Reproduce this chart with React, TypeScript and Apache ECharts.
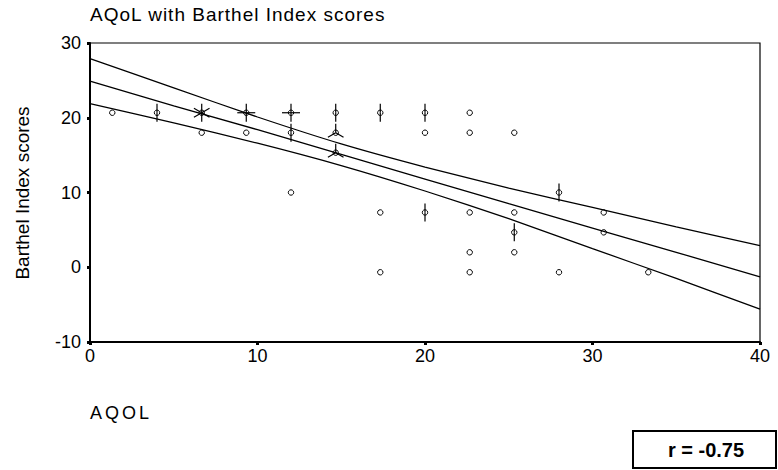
import React, { useEffect, useRef } from "react";
import * as echarts from "echarts";

// ---- data ----
const TITLE = "AQoL with Barthel Index scores";
const X_NAME = "AQOL";
const Y_NAME = "Barthel Index scores";
const R_TEXT = "r = -0.75";

const xTicks = [0, 10, 20, 30, 40];
const yTicks = [-10, 0, 10, 20, 30];

// observed points: x, y and number of coincident cases (sunflower petals)
const pointX = [1.33, 4, 6.67, 9.33, 12, 14.67, 17.33, 20, 22.67,
  6.67, 9.33, 12, 14.67, 20, 22.67, 25.33,
  14.67,
  12, 28,
  17.33, 20, 22.67, 25.33, 30.67,
  25.33, 30.67,
  22.67, 25.33,
  17.33, 22.67, 28, 33.33];
const pointY = [20.67, 20.67, 20.67, 20.67, 20.67, 20.67, 20.67, 20.67, 20.67,
  18, 18, 18, 18, 18, 18, 18,
  15.33,
  10, 10,
  7.33, 7.33, 7.33, 7.33, 7.33,
  4.67, 4.67,
  2, 2,
  -0.67, -0.67, -0.67, -0.67];
const pointCount = [1, 2, 6, 4, 4, 2, 2, 2, 1,
  1, 1, 2, 3, 1, 1, 1,
  3,
  1, 2,
  1, 2, 1, 1, 1,
  2, 1,
  1, 1,
  1, 1, 1, 1];

// fit line and confidence band, read at x = 0, 5, ... 40
const bandX = [0, 5, 10, 15, 20, 25, 30, 35, 40];
const fitY = [24.9, 21.6, 18.4, 15.1, 11.8, 8.5, 5.25, 2.0, -1.3];
const upperY = [27.9, 24.0, 20.1, 16.5, 13.4, 10.6, 8.0, 5.4, 2.9];
const lowerY = [21.9, 19.3, 16.6, 13.6, 10.2, 6.5, 2.5, -1.5, -5.6];

const FONT = "'Liberation Sans', Arial, sans-serif";

export default function App() {
  const ref = useRef<HTMLDivElement>(null);

  useEffect(() => {
    if (!ref.current) return;
    const chart = echarts.init(ref.current, undefined, { renderer: "svg" });

    const pts = pointX.map((x, i) => [x, pointY[i], pointCount[i]]);
    const toPairs = (ys: number[]) => bandX.map((x, i) => [x, ys[i]]);
    const lineStyle = { color: "#000", width: 1.3 };

    const option: any = {
      animation: false,
      backgroundColor: "#fff",
      textStyle: { fontFamily: FONT },
      grid: {
        left: 90,
        right: 18,
        top: 43,
        bottom: 128,
        show: true,
        borderColor: "#000",
        borderWidth: 1.2,
        containLabel: false,
      },
      xAxis: {
        type: "value",
        min: xTicks[0],
        max: xTicks[xTicks.length - 1],
        interval: 10,
        axisLine: { show: true, onZero: false, lineStyle: { color: "#000", width: 2 } },
        axisTick: { show: true, length: 3, lineStyle: { color: "#000", width: 3 } },
        axisLabel: { color: "#000", fontSize: 18, margin: 5, fontFamily: FONT },
        splitLine: { show: false },
      },
      yAxis: {
        type: "value",
        min: yTicks[0],
        max: yTicks[yTicks.length - 1],
        interval: 10,
        axisLine: { show: true, onZero: false, lineStyle: { color: "#000", width: 2 } },
        axisTick: { show: true, length: 3, lineStyle: { color: "#000", width: 3 } },
        axisLabel: { color: "#000", fontSize: 18, margin: 9, fontFamily: FONT },
        splitLine: { show: false },
      },
      graphic: [
        {
          type: "text",
          left: 90,
          top: 5,
          style: { text: TITLE, fontSize: 19, fill: "#000", fontFamily: FONT },
        },
        {
          type: "text",
          left: 90,
          top: 404,
          style: { text: X_NAME, fontSize: 18, fill: "#000", fontFamily: FONT },
        },
        {
          type: "text",
          x: 22,
          y: 193,
          rotation: Math.PI / 2,
          style: {
            text: Y_NAME,
            fontSize: 19,
            fill: "#000",
            fontFamily: FONT,
            align: "center",
            verticalAlign: "middle",
          },
        },
        {
          type: "rect",
          shape: { x: 633, y: 431, width: 143, height: 37 },
          style: { fill: "#fff", stroke: "#000", lineWidth: 2 },
        },
        {
          type: "text",
          x: 706,
          y: 450,
          style: {
            text: R_TEXT,
            fontSize: 20,
            fontWeight: "bold",
            fill: "#000",
            fontFamily: FONT,
            align: "center",
            verticalAlign: "middle",
          },
        },
      ],
      series: [
        { type: "line", data: toPairs(upperY), symbol: "none", lineStyle, silent: true, smooth: 0.2 },
        { type: "line", data: toPairs(fitY), symbol: "none", lineStyle, silent: true },
        { type: "line", data: toPairs(lowerY), symbol: "none", lineStyle, silent: true, smooth: 0.2 },
        {
          type: "custom",
          data: pts,
          silent: true,
          renderItem: (params: any, api: any) => {
            const c = api.coord([api.value(0), api.value(1)]);
            const n = api.value(2);
            const children: any[] = [
              {
                type: "circle",
                shape: { cx: c[0], cy: c[1], r: 2.7 },
                style: { fill: "none", stroke: "#000", lineWidth: 1 },
              },
            ];
            if (n > 1) {
              const L = 9;
              for (let k = 0; k < n; k++) {
                const a = Math.PI / 2 + (k * 2 * Math.PI) / n;
                children.push({
                  type: "line",
                  shape: { x1: c[0], y1: c[1], x2: c[0] + L * Math.cos(a), y2: c[1] - L * Math.sin(a) },
                  style: { stroke: "#000", lineWidth: 1.2 },
                });
              }
            }
            return { type: "group", children };
          },
        },
      ],
    };

    chart.setOption(option);

    const spaceOut = () => {
      const el = ref.current;
      if (!el) return;
      el.querySelectorAll("text").forEach((t) => {
        const s = t.textContent;
        if (s === TITLE) (t as any).style.letterSpacing = "1px";
        if (s === X_NAME) (t as any).style.letterSpacing = "3px";
      });
    };
    spaceOut();
    chart.on("finished", spaceOut);

    return () => chart.dispose();
  }, []);

  return (
    <div
      ref={ref}
      style={{ position: "absolute", left: 0, top: 0, width: 778, height: 470, background: "#fff" }}
    />
  );
}
